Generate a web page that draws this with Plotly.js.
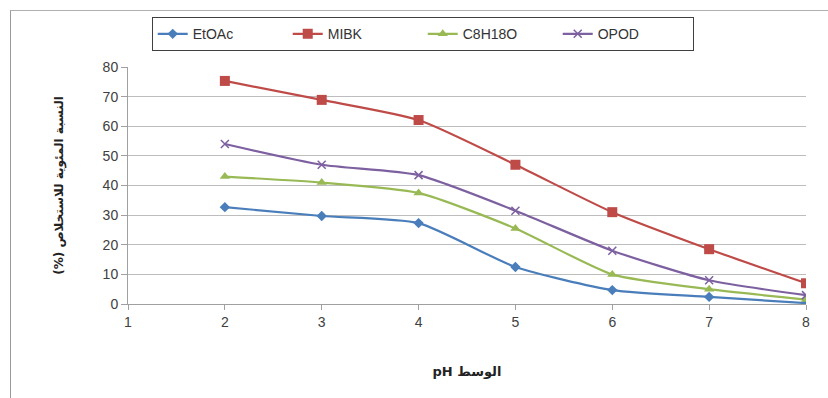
<!DOCTYPE html>
<html><head><meta charset="utf-8">
<script src="https://cdn.plot.ly/plotly-3.0.1.min.js"></script>
<style>
html,body{margin:0;padding:0;background:#fff;}
#frame{position:absolute;left:10px;top:10px;width:830px;height:400px;border-left:1px solid #9a9a9a;border-top:1px solid #b0b0b0;}
#chart{position:absolute;left:0;top:0;width:828px;height:398px;}
</style></head>
<body>
<div id="frame"></div>
<div id="chart"></div>
<script>
const ph = [2, 3, 4, 5, 6, 7, 8];
const etoac = [32.7, 29.7, 27.3, 12.5, 4.7, 2.4, 0.3];
const mibk = [75.3, 68.9, 62.1, 47.0, 31.0, 18.5, 7.0];
const c8h18o = [43.0, 41.0, 37.5, 25.5, 10.0, 5.0, 1.5];
const opod = [54.0, 47.0, 43.5, 31.5, 18.0, 8.0, 3.0];
const names = ['EtOAc', 'MIBK', 'C8H18O', 'OPOD'];
const colors = ['#4a7ebb', '#be4b48', '#98b954', '#7d60a0'];
const symbols = ['diamond', 'square', 'triangle-up', 'x-thin-open'];
const msizes = [8, 10, 9, 8];
const series = [etoac, mibk, c8h18o, opod];

const traces = series.map((ys, i) => ({
  x: ph, y: ys, name: names[i], type: 'scatter', mode: 'lines+markers',
  line: {color: colors[i], width: 2.2, shape: 'spline', smoothing: 0.6},
  marker: {symbol: symbols[i], size: msizes[i], color: colors[i],
           line: {color: colors[i], width: i === 3 ? 1.5 : 0}}
}));

const layout = {
  width: 828, height: 398,
  margin: {l: 128, r: 22, t: 67, b: 94},
  paper_bgcolor: 'rgba(0,0,0,0)', plot_bgcolor: 'rgba(0,0,0,0)',
  font: {family: 'Liberation Sans, Arial, sans-serif', size: 13, color: '#404040'},
  showlegend: true,
  legend: {orientation: 'h', x: 0.035, xanchor: 'left', y: 1.21, yanchor: 'top',
           bordercolor: '#404040', borderwidth: 1, bgcolor: '#fff',
           font: {size: 14, color: '#333'}, entrywidth: 90, entrywidthmode: 'pixels',
           traceorder: 'normal'},
  xaxis: {range: [1, 8], tickvals: [1,2,3,4,5,6,7,8], ticks: 'outside', ticklen: 5,
          tickcolor: '#a0a0a0', showgrid: false, zeroline: false,
          showline: true, linecolor: '#a0a0a0', linewidth: 1,
          tickfont: {size: 14, color: '#404040'},
          title: {text: '<b>pH الوسط</b>', font: {family: 'DejaVu Sans, sans-serif', size: 13, color: '#222'}, standoff: 38}},
  yaxis: {range: [0, 80], tickvals: [0,10,20,30,40,50,60,70,80], ticks: 'outside', ticklen: 6,
          tickcolor: '#a0a0a0', showgrid: true, gridcolor: '#bdbdbd', gridwidth: 1,
          zeroline: false, showline: true, linecolor: '#a0a0a0', linewidth: 1,
          tickfont: {size: 14, color: '#404040'},
          title: {text: '<b>(%) النسبة المئوية للاستخلاص</b>', font: {family: 'DejaVu Sans, sans-serif', size: 12, color: '#222'}, standoff: 36}}
};

Plotly.newPlot('chart', traces, layout, {displayModeBar: false, staticPlot: true});
</script>
</body></html>
